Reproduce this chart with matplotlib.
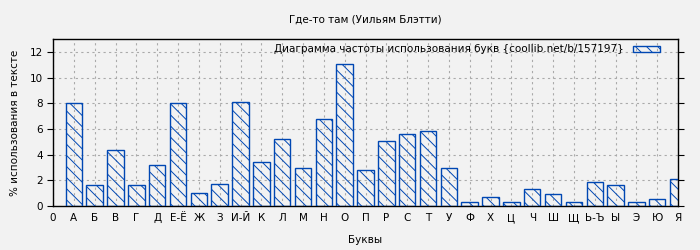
import matplotlib.pyplot as plt
import numpy as np

letters = ['А', 'Б', 'В', 'Г', 'Д', 'Е-Ё', 'Ж', 'З', 'И-Й', 'К', 'Л', 'М', 'Н',
           'О', 'П', 'Р', 'С', 'Т', 'У', 'Ф', 'Х', 'Ц', 'Ч', 'Ш', 'Щ', 'Ь-Ъ',
           'Ы', 'Э', 'Ю', 'Я']
percent = [8.0, 1.61, 4.35, 1.61, 3.18, 8.0, 0.99, 1.69, 8.10, 3.41, 5.21, 2.94,
           6.77, 11.07, 2.79, 5.05, 5.60, 5.83, 2.94, 0.29, 0.68, 0.29, 1.30,
           0.91, 0.29, 1.85, 1.61, 0.29, 0.52, 2.08]

plt.rcParams['font.family'] = 'DejaVu Sans'
plt.rcParams['hatch.color'] = '#0047b3'
plt.rcParams['hatch.linewidth'] = 0.7

fig = plt.figure(figsize=(7, 2.5), dpi=100, facecolor='#f2f2f2')
ax = fig.add_axes([0.0757, 0.176, 0.893, 0.667])
ax.set_facecolor('#f2f2f2')

x = np.arange(1, len(letters) + 1)
ax.bar(x, percent, width=0.79, facecolor='none', edgecolor='#0047b3',
       linewidth=1.0, hatch='\\\\\\',
       label='Диаграмма частоты использования букв {coollib.net/b/157197}',
       zorder=3)

ax.set_xlim(0, len(letters))
ax.set_ylim(0, 13)
ax.set_xticks(np.arange(0, len(letters) + 1))
ax.set_xticklabels(['0'] + letters, fontsize=7.5)
ax.set_yticks(np.arange(0, 13, 2))
ax.tick_params(axis='y', labelsize=7.5, direction='out', length=4, right=True)
ax.tick_params(axis='x', length=0, pad=5)
ax.grid(True, linestyle=(0, (2, 3)), color='#aaaaaa', linewidth=0.8, zorder=0)
for s in ax.spines.values():
    s.set_linewidth(1.0)

ax.set_xlabel('Буквы', fontsize=7.5, labelpad=9)
ax.set_ylabel('% использования в тексте', fontsize=7.5, labelpad=7)
fig.suptitle('Где-то там (Уильям Блэтти)', fontsize=7.5, x=0.522, y=0.94)

leg = ax.legend(loc='upper right', frameon=False, fontsize=7.5, markerfirst=False,
                handlelength=2.6, handleheight=0.5, borderaxespad=0.1,
                handletextpad=0.9, bbox_to_anchor=(0.98, 1.0))

fig.savefig('out.png', dpi=100, facecolor='#f2f2f2')
